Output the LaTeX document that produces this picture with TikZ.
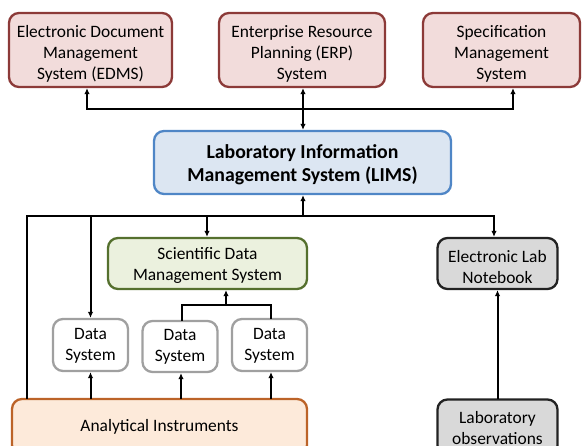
\documentclass[tikz,border=0pt]{standalone}
\usepackage{fontspec}
\setmainfont{Carlito}
\usetikzlibrary{arrows.meta}
\definecolor{erpfill}{HTML}{F2DCDB}
\definecolor{erpdraw}{HTML}{8C3A38}
\definecolor{limsfill}{HTML}{DCE6F2}
\definecolor{limsdraw}{HTML}{4F86C6}
\definecolor{sdmsfill}{HTML}{EBF1DE}
\definecolor{sdmsdraw}{HTML}{55702E}
\definecolor{greyfill}{HTML}{D9D9D9}
\definecolor{greydraw}{HTML}{222222}
\definecolor{dsdraw}{HTML}{A0A0A0}
\definecolor{aifill}{HTML}{FDEADA}
\definecolor{aidraw}{HTML}{BC6328}
% centred lines of text, lowered inside their box without changing its size
\newcommand{\boxtext}[2]{\raisebox{-#1}[\height][\depth]{\begin{tabular}{@{}c@{}}#2\end{tabular}}}
\tikzset{
  box/.style={draw, line width=2.3pt, rounded corners=10pt, inner sep=0pt,
    font=\fontsize{17.4}{21}\selectfont},
  topbox/.style={box, fill=erpfill, draw=erpdraw, minimum height=74pt},
  limsbox/.style={box, fill=limsfill, draw=limsdraw, font=\fontsize{19.8}{23}\selectfont\bfseries},
  sdmsbox/.style={box, fill=sdmsfill, draw=sdmsdraw},
  greybox/.style={box, fill=greyfill, draw=greydraw, minimum width=120pt},
  dsbox/.style={box, fill=white, draw=dsdraw, minimum width=75pt},
  aibox/.style={box, fill=aifill, draw=aidraw},
  conn/.style={line width=2pt, line cap=rect},
  arr/.style={conn, -{Latex[length=6pt,width=5.5pt]}},
  darr/.style={conn, {Latex[length=6pt,width=5.5pt]}-{Latex[length=6pt,width=5.5pt]}},
}
\begin{document}
\begin{tikzpicture}[x=1pt, y=-1pt]
\useasboundingbox (0,0) rectangle (582,446);
% upper systems
\node[topbox, minimum width=163pt] (edms) at (90.5,50)
  {\boxtext{4pt}{Electronic Document\\Management\\System (EDMS)}};
\node[topbox, minimum width=166pt] (erp) at (302,50)
  {\boxtext{4pt}{Enterprise Resource\\Planning (ERP)\\System}};
\node[topbox, minimum width=157pt] (spec) at (501.5,50)
  {\boxtext{4pt}{Specification\\Management\\System}};
% central LIMS
\node[limsbox, minimum width=297pt, minimum height=63pt] (lims) at (302.5,162.5)
  {\boxtext{3.4pt}{Laboratory Information\\Management System (LIMS)}};
% lower systems
\node[sdmsbox, minimum width=199pt, minimum height=51pt] (sdms) at (207.5,263.5)
  {\boxtext{2.8pt}{Scientific Data\\Management System}};
\node[greybox, minimum height=51pt] (eln) at (497.5,263.5)
  {\boxtext{5pt}{Electronic Lab\\Notebook}};
\node[dsbox, minimum height=52pt] (ds1) at (90.5,345) {\boxtext{1.3pt}{Data\\System}};
\node[dsbox, minimum height=51pt] (ds2) at (180,346.5) {\boxtext{0.6pt}{Data\\System}};
\node[dsbox, minimum height=52pt] (ds3) at (269.5,345) {\boxtext{1.3pt}{Data\\System}};
\node[aibox, minimum width=295pt, minimum height=56pt] (ai) at (159.5,427)
  {\boxtext{0.8pt}{Analytical Instruments}};
\node[greybox, minimum height=56pt] (obs) at (497.5,427.5)
  {\boxtext{2.5pt}{Laboratory\\observations}};

% bus between LIMS and the upper systems
\coordinate (tbus) at (303,109.5);
\draw[darr] ([xshift=0.5pt]lims.north) -- ([xshift=0.5pt]lims.north |- erp.south);
\draw[arr] (tbus) -- ([xshift=-3.5pt]edms.south |- tbus) -- ([xshift=-3.5pt]edms.south);
\draw[arr] (tbus) -- ([xshift=11.5pt]spec.south |- tbus) -- ([xshift=11.5pt]spec.south);

% bus between LIMS and the lab systems
\coordinate (b0) at (27,216.5);
\coordinate (b2) at (207,216.5);
\coordinate (b5) at (494,216.5);
\draw[conn] (ai.north -| b0) -- (b0) -- (b5);
\draw[arr] (b0 -| 303,0) -- (lims.south -| 303,0);
\draw[arr] (b0 -| ds1.north) -- (ds1.north);
\draw[arr] (b2) -- (b2 |- sdms.north);
\draw[arr] (b5) -- (b5 |- eln.north);

% data systems feeding the SDMS
\coordinate (sbus) at (226,305);
\draw[conn] ([xshift=2pt]ds2.north) -- ([xshift=2pt]ds2.north |- sbus)
  -- ([xshift=1.5pt]ds3.north |- sbus) -- ([xshift=1.5pt]ds3.north);
\draw[arr] (sbus) -- (sbus |- sdms.south);

% instruments to data systems
\draw[arr] (ai.north -| ds1.south) -- (ds1.south);
\draw[arr] ([xshift=1pt]ai.north -| ds2.south) -- ([xshift=1pt]ds2.south);
\draw[arr] ([xshift=1.5pt]ai.north -| ds3.south) -- ([xshift=1.5pt]ds3.south);

% observations to notebook
\draw[arr] (obs.north) -- (eln.south);
\end{tikzpicture}
\end{document}
